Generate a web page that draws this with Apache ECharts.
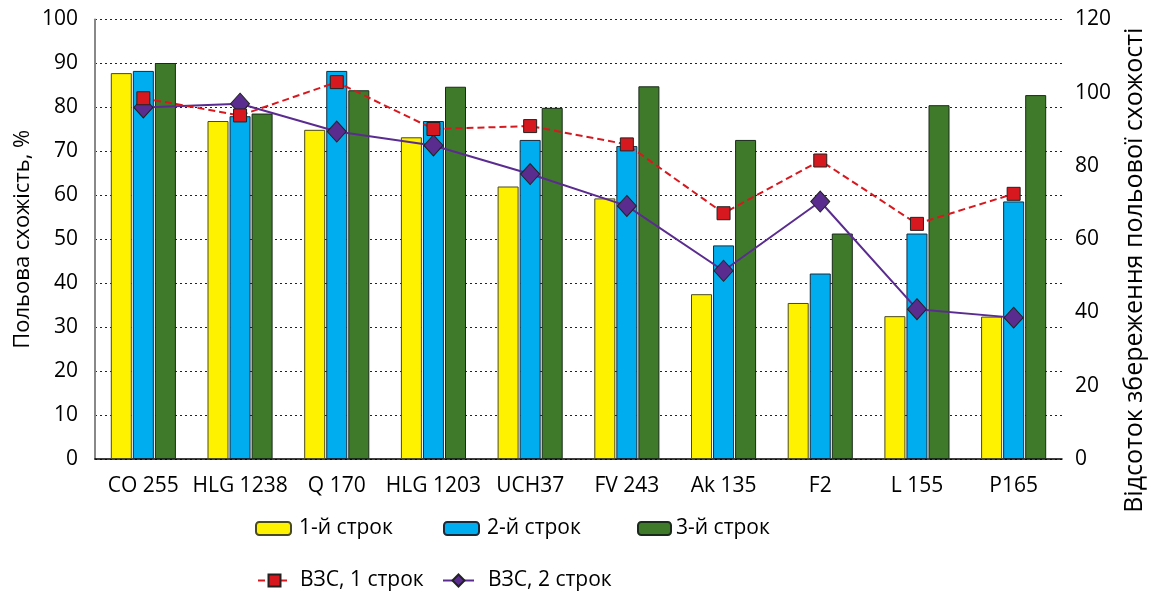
<!DOCTYPE html>
<html><head><meta charset="utf-8">
<script src="https://cdn.jsdelivr.net/npm/echarts@6/dist/echarts.min.js"></script>
<style>html,body{margin:0;padding:0;background:#fff}#c{width:1152px;height:592px}</style>
</head><body><div id="c"></div>
<script>
const categories = ['CO 255','HLG 1238','Q 170','HLG 1203','UCH37','FV 243','Ak 135','F2','L 155','P165'];
const term1 = [87.8, 76.9, 74.9, 73.2, 62.0, 59.3, 37.5, 35.5, 32.5, 32.4];
const term2 = [88.3, 78.0, 88.3, 76.9, 72.6, 71.2, 48.6, 42.2, 51.3, 58.6];
const term3 = [90.1, 78.6, 83.9, 84.7, 79.9, 84.8, 72.6, 51.3, 80.5, 82.8];
const vzs1 = [98.5, 93.8, 102.9, 90.1, 90.9, 85.9, 67.1, 81.5, 64.2, 72.4];
const vzs2 = [96.0, 97.0, 89.4, 85.6, 77.8, 69.1, 51.4, 70.3, 40.9, 38.6];
const seriesNames = ['1-й строк','2-й строк','3-й строк','ВЗС, 1 строк','ВЗС, 2 строк'];
const leftTitle = 'Польова схожість, %';
const rightTitle = 'Відсоток збереження польової схожості';

const FONT = 'Open Sans';
const txt = {fontFamily: FONT, color: '#000', fontSize: 21};
const chart = echarts.init(document.getElementById('c'));
function barSeries(name, data, color, border) {
  return {name, type: 'bar', data, barWidth: 21, barGap: '5%',
    itemStyle: {color, borderColor: border, borderWidth: 1}};
}
function leg(name, left, top, w, h, pad) {
  return {data: [name], left, top, padding: 0, itemWidth: w, itemHeight: h, itemGap: 0,
    textStyle: Object.assign({}, txt, {padding: [0,0,0,pad]})};
}
chart.setOption({
  animation: false,
  grid: {left: 95, right: 90, top: 19.5, bottom: 133, containLabel: false, outerBoundsMode: 'none'},
  legend: [
    leg(seriesNames[0], 255, 518, 35, 13, 3),
    leg(seriesNames[1], 443, 518, 35, 13, 3),
    leg(seriesNames[2], 637, 518, 33, 13, 0),
    leg(seriesNames[3], 257, 570, 33, 15, 4),
    leg(seriesNames[4], 442, 570, 31, 15, 9)
  ],
  xAxis: {type: 'category', data: categories,
    axisLine: {lineStyle: {color: '#000', width: 1.5}},
    axisTick: {show: false},
    axisLabel: Object.assign({}, txt, {margin: 17, interval: 0})},
  yAxis: [
    {type: 'value', min: 0, max: 100, interval: 10, position: 'left',
      name: leftTitle, nameLocation: 'middle', nameGap: 61, nameRotate: 90, nameMoveOverlap: false,
      nameTextStyle: Object.assign({}, txt, {fontSize: 22}),
      axisLine: {show: true, lineStyle: {color: '#888', width: 2}},
      axisTick: {show: false},
      axisLabel: Object.assign({}, txt, {margin: 17}),
      splitLine: {lineStyle: {color: '#222', type: [2, 3], width: 1}}},
    {type: 'value', min: 0, max: 120, interval: 20, position: 'right',
      name: rightTitle, nameLocation: 'middle', nameGap: 60, nameRotate: 90, nameMoveOverlap: false,
      nameTextStyle: Object.assign({}, txt, {fontSize: 25, padding: [0, 62, 0, 0]}),
      axisLine: {show: false}, axisTick: {show: false},
      axisLabel: Object.assign({}, txt, {margin: 13}),
      splitLine: {show: false}}
  ],
  series: [
    barSeries(seriesNames[0], term1, '#FFF200', '#4a4a1a'),
    barSeries(seriesNames[1], term2, '#00AEEF', '#1a2a3a'),
    barSeries(seriesNames[2], term3, '#3F7A2A', '#1a2a1a'),
    {name: seriesNames[3], type: 'line', yAxisIndex: 1, data: vzs1,
      symbol: 'rect', symbolSize: 13,
      lineStyle: {color: '#D7191F', width: 2, type: [7, 4]},
      itemStyle: {color: '#D7191F', borderColor: '#222', borderWidth: 1}, z: 5},
    {name: seriesNames[4], type: 'line', yAxisIndex: 1, data: vzs2,
      symbol: 'diamond', symbolSize: [19, 21],
      lineStyle: {color: '#5B2C8F', width: 2},
      itemStyle: {color: '#5B2C8F', borderColor: '#222', borderWidth: 1}, z: 4}
  ]
});
</script></body></html>
